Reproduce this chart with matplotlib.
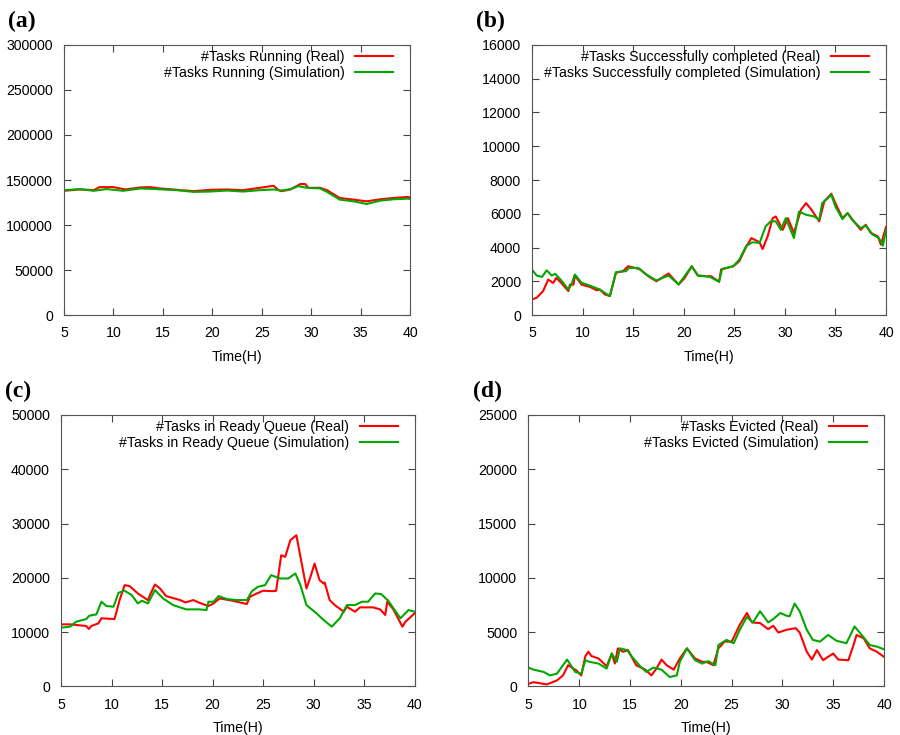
import matplotlib
matplotlib.use("Agg")
import matplotlib.pyplot as plt
from matplotlib.transforms import ScaledTranslation

plt.rcParams['font.family'] = ['Liberation Sans', 'DejaVu Sans']

# (a) tasks running
a_real_h = [5.0, 6.6, 8.0, 8.6, 10.0, 11.2, 12.7, 13.7, 14.7, 16.4, 18.1, 19.8, 21.5, 23.1,
            24.8, 26.2, 26.7, 27.0, 27.9, 28.9, 29.4, 29.7, 30.9, 31.6, 32.9, 34.3, 35.6,
            37.0, 38.3, 39.8, 40.0]
a_real = [138000, 139500, 138700, 142100, 142100, 139500, 141700, 142100, 140600, 139100,
          137600, 139100, 139500, 138700, 141300, 143600, 138700, 137600, 139500, 145500,
          145500, 141300, 141300, 138700, 130000, 128200, 126300, 128600, 130000, 131200, 130500]
a_sim_h = [5.0, 6.6, 8.0, 9.3, 11.0, 12.7, 14.3, 16.4, 18.1, 19.8, 21.5, 23.1, 24.8, 26.2,
           27.0, 27.9, 28.7, 29.6, 30.9, 31.6, 32.9, 34.3, 35.6, 37.0, 38.3, 39.8, 40.0]
a_sim = [138700, 139900, 138000, 139900, 138000, 140600, 139900, 138700, 136800, 137200,
         138300, 137200, 138700, 139500, 138300, 139900, 143200, 141300, 140600, 136800,
         128200, 126300, 123300, 127100, 128600, 129300, 128800]

# (b) tasks successfully completed
b_real_h = [5.0, 5.46, 6.1, 6.6, 7.1, 7.4, 7.9, 8.6, 8.75, 9.1, 9.24, 9.9, 10.7, 11.4, 11.7,
            12.2, 12.7, 13.3, 14.0, 14.5, 15.2, 15.7, 16.5, 17.3, 18.5, 19.5, 20.1, 20.8,
            21.4, 22.2, 22.7, 23.5, 23.7, 24.9, 25.5, 26.2, 26.7, 27.5, 27.8, 28.3, 28.8,
            29.1, 29.8, 30.3, 30.9, 31.6, 32.1, 32.6, 33.4, 33.9, 34.6, 35.0, 35.7, 36.2,
            36.7, 37.5, 38.0, 38.5, 39.2, 39.5, 40.0]
b_real = [925, 1020, 1420, 2100, 1900, 2200, 1900, 1420, 1800, 1800, 2340, 1800, 1670, 1470,
          1515, 1220, 1120, 2500, 2600, 2890, 2790, 2700, 2300, 2000, 2460, 1810, 2200, 2890,
          2340, 2300, 2300, 1970, 2700, 2890, 3190, 4070, 4560, 4310, 3910, 4660, 5740, 5840,
          5050, 5740, 4860, 6240, 6630, 6270, 5550, 6730, 7180, 6630, 5740, 6040, 5650, 5050,
          5350, 4860, 4660, 4170, 5210]
b_sim_h = [5.0, 5.46, 6.0, 6.45, 6.95, 7.3, 7.9, 8.6, 8.9, 9.24, 9.9, 10.7, 11.7, 12.7, 13.3,
           14.3, 14.6, 15.5, 16.3, 17.3, 18.5, 19.5, 20.8, 21.4, 22.6, 23.5, 23.8, 24.9, 25.5,
           26.2, 26.8, 27.5, 28.1, 28.6, 29.1, 29.6, 30.1, 30.9, 31.4, 32.1, 32.9, 33.4, 33.7,
           34.6, 35.0, 35.7, 36.2, 36.7, 37.5, 38.0, 38.7, 39.3, 39.7, 40.0]
b_sim = [2690, 2340, 2260, 2650, 2340, 2440, 2050, 1510, 1810, 2400, 1910, 1750, 1510, 1120,
         2540, 2600, 2790, 2790, 2400, 2050, 2340, 1810, 2890, 2340, 2260, 1970, 2730, 2890,
         3280, 4110, 4310, 4270, 5250, 5550, 5550, 5050, 5740, 4560, 6130, 5940, 5840, 5650,
         6630, 7120, 6430, 5680, 6040, 5610, 5150, 5290, 4760, 4560, 4110, 5050]

# (c) tasks in ready queue
c_real_h = [5.0, 5.9, 7.5, 7.75, 8.0, 8.7, 9.0, 10.3, 10.8, 11.3, 11.8, 12.6, 13.1, 13.6,
            13.8, 14.3, 14.8, 15.4, 16.8, 17.3, 18.1, 18.7, 19.6, 20.1, 20.7, 22.0, 23.4,
            23.7, 24.4, 25.0, 26.0, 26.3, 26.8, 27.2, 27.7, 28.3, 29.3, 29.7, 30.1, 30.6,
            31.0, 31.1, 31.6, 32.1, 33.0, 33.3, 34.1, 34.6, 35.9, 36.6, 37.1, 37.3, 37.9,
            38.8, 39.1, 40.0]
c_real = [11440, 11440, 11140, 10590, 11140, 11630, 12550, 12420, 15910, 18670, 18480, 17140,
          16520, 15910, 16830, 18790, 18050, 16650, 15910, 15480, 15910, 15420, 14810, 15300,
          16220, 15790, 15180, 16520, 17140, 17630, 17560, 17630, 24170, 23870, 26930, 27850,
          18050, 20200, 22640, 19580, 18970, 19160, 15910, 14990, 13770, 14690, 13770, 14570,
          14570, 14200, 13160, 15610, 14200, 11020, 11930, 13460]
c_sim_h = [5.0, 5.9, 6.5, 7.5, 7.8, 8.5, 9.0, 9.5, 10.2, 10.7, 11.3, 12.0, 12.6, 13.0, 13.6,
           14.3, 15.1, 16.1, 17.4, 18.7, 19.4, 19.6, 20.1, 20.6, 21.4, 22.4, 23.4, 23.9, 24.5,
           25.2, 25.8, 26.7, 27.5, 28.2, 28.7, 29.3, 30.3, 31.0, 31.8, 32.6, 33.3, 34.1, 34.8,
           35.4, 36.1, 36.7, 37.4, 38.6, 39.4, 40.0]
c_sim = [10830, 11020, 11930, 12420, 13040, 13280, 15610, 14810, 14690, 17260, 17630, 16830,
         15300, 15790, 15300, 17750, 16220, 14990, 14200, 14200, 14080, 15610, 15610, 16650,
         16100, 15910, 15910, 17560, 18360, 18670, 20500, 19890, 19890, 20810, 18670, 14990,
         13460, 12240, 11020, 12550, 14990, 14990, 15610, 15610, 17140, 17010, 15790, 12550,
         14080, 13770]

# (d) tasks evicted
d_real_h = [5.0, 5.5, 6.8, 7.8, 8.4, 8.9, 9.7, 10.2, 10.6, 10.9, 11.2, 11.9, 12.7, 13.2, 13.5,
            13.8, 14.3, 14.8, 15.6, 16.5, 17.1, 17.6, 18.1, 18.6, 19.3, 19.9, 20.6, 21.4,
            22.1, 22.5, 23.2, 23.7, 24.3, 25.0, 25.8, 26.5, 27.0, 27.8, 28.6, 29.1, 29.6,
            30.4, 31.3, 31.7, 32.4, 32.9, 33.4, 34.0, 35.0, 35.5, 36.5, 37.0, 37.3, 38.0,
            38.6, 39.3, 40.0]
d_real = [250, 400, 190, 560, 1020, 1960, 1490, 1020, 2800, 3200, 2800, 2580, 1860, 3040, 2110,
          3510, 3200, 3350, 1960, 1550, 1020, 1650, 2480, 1960, 1550, 2580, 3510, 2580, 2270,
          2270, 1960, 3510, 4130, 4130, 5680, 6770, 5900, 5840, 5280, 5590, 4970, 5220, 5370,
          4970, 3200, 2480, 3350, 2420, 3040, 2480, 2420, 3820, 4750, 4440, 3510, 3200, 2730]
d_sim_h = [5.0, 5.5, 6.5, 7.1, 7.8, 8.8, 9.6, 10.2, 10.6, 11.0, 11.9, 12.7, 13.2, 13.7, 14.0,
           14.7, 15.2, 16.0, 16.6, 17.3, 18.1, 18.9, 19.6, 19.9, 20.6, 21.4, 22.1, 22.7, 23.4,
           23.7, 24.5, 25.2, 25.8, 26.5, 27.1, 27.8, 28.6, 29.1, 29.8, 30.4, 30.7, 31.2, 31.7,
           32.4, 33.0, 33.7, 34.5, 35.3, 36.3, 37.1, 37.8, 38.6, 39.3, 40.0]
d_sim = [1740, 1550, 1340, 1020, 1180, 2480, 1340, 1180, 2420, 2270, 2110, 1650, 3040, 2270,
         3510, 3350, 2730, 1860, 1340, 1740, 1550, 870, 1020, 2270, 3510, 2420, 2110, 2330,
         1960, 3820, 4290, 3980, 5220, 6400, 5900, 6930, 5900, 6210, 6770, 6520, 6460, 7640,
         6930, 5220, 4290, 4130, 4750, 4220, 3980, 5530, 4750, 3820, 3670, 3420]

panels = [
    ("(a)", [0.0711, 0.5714, 0.3845, 0.3674], a_real_h, a_real, a_sim_h, a_sim,
     "#Tasks Running", 300000, 50000),
    ("(b)", [0.5911, 0.5714, 0.3933, 0.3674], b_real_h, b_real, b_sim_h, b_sim,
     "#Tasks Successfully completed", 16000, 2000),
    ("(c)", [0.0678, 0.0660, 0.3928, 0.3694], c_real_h, c_real, c_sim_h, c_sim,
     "#Tasks in Ready Queue", 50000, 10000),
    ("(d)", [0.5872, 0.0660, 0.3950, 0.3694], d_real_h, d_real, d_sim_h, d_sim,
     "#Tasks Evicted", 25000, 5000),
]

fig = plt.figure(figsize=(9, 7.35), dpi=100)
fs = 10.2

for tag, rect, rh, rv, sh, sv, name, ymax, ystep in panels:
    ax = fig.add_axes(rect)
    ax.plot(rh, rv, color="#ff0000", lw=1.5, label=name + " (Real)")
    ax.plot(sh, sv, color="#00a800", lw=1.5, label=name + " (Simulation)")
    ax.set_xlim(5, 40)
    ax.set_ylim(0, ymax)
    ax.set_xticks(range(5, 41, 5))
    ax.set_yticks(range(0, ymax + 1, ystep))
    ax.tick_params(direction="in", top=True, right=True, length=5, labelsize=fs,
                   color="#444444", pad=8)
    for s in ax.spines.values():
        s.set_color("#555555")
    ax.set_xlabel("Time(H)", fontsize=fs, labelpad=7)
    # gnuplot-style key: text on the left, sample line on the right
    shift = ax.transAxes + ScaledTranslation(-0.11, 0.01, fig.dpi_scale_trans)
    ax.legend(loc="upper right", bbox_to_anchor=(1, 1), bbox_transform=shift,
              frameon=False, markerfirst=False, fontsize=fs, handlelength=2.7,
              labelspacing=0.15, borderaxespad=0, handletextpad=0.75)
    fig.text(rect[0] - 0.062, rect[1] + rect[3] + 0.025, tag, fontsize=17, fontweight="bold",
             family="Liberation Serif")

fig.savefig("out.png", dpi=100)
